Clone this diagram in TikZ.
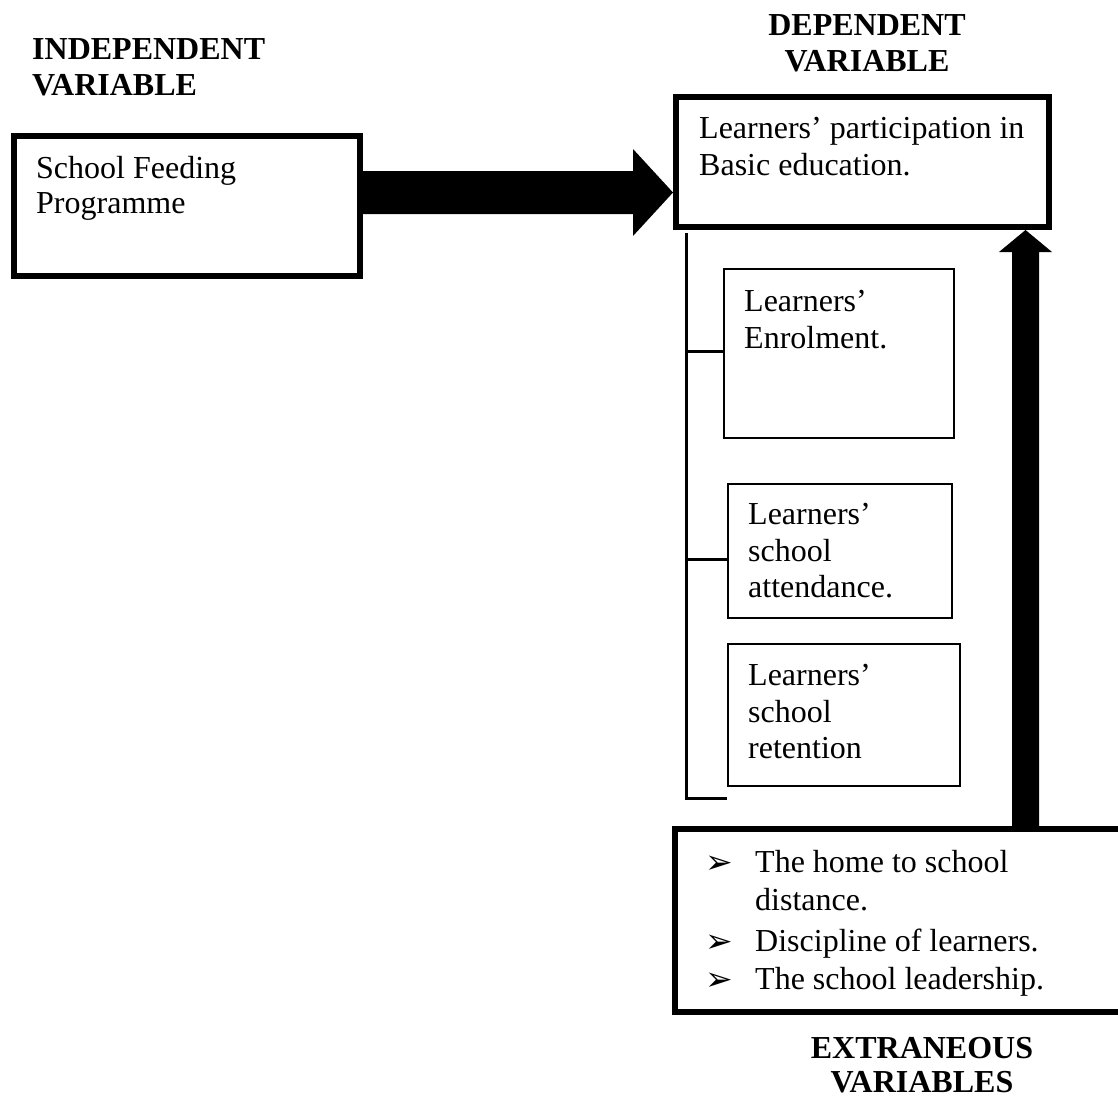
\documentclass[tikz,border=0pt]{standalone}
\usepackage{fontspec}
\setmainfont{Liberation Serif}
\newfontfamily\djv{DejaVu Sans}
\begin{document}
\begin{tikzpicture}[x=1pt,y=-1pt,
  txt/.style={inner sep=0pt,anchor=base west,font=\fontsize{32}{37}\selectfont},
  head/.style={inner sep=0pt,anchor=base,font=\fontsize{32}{37}\selectfont\bfseries},
  headl/.style={inner sep=0pt,anchor=base west,font=\fontsize{32}{37}\selectfont\bfseries},
  bul/.style={inner sep=0pt,anchor=base west,font=\fontsize{33}{38}\djv},
  thickbox/.style={draw,line width=6pt,rectangle,inner sep=0pt},
  thinbox/.style={draw,line width=1.5pt,rectangle,inner sep=0pt},
  bracket/.style={line width=3pt}]
\useasboundingbox (0,0) rectangle (1118,1098);
\clip (0,0) rectangle (1118,1098);

% boxes
\node[thickbox,minimum width=346pt,minimum height=140pt] (sfp) at (187,206) {};
\node[thickbox,minimum width=373pt,minimum height=130pt] (dep) at (862.5,162) {};
\node[thinbox,minimum width=230pt,minimum height=169pt] (enr) at (839,353.5) {};
\node[thinbox,minimum width=224pt,minimum height=134pt] (att) at (840,551) {};
\node[thinbox,minimum width=232pt,minimum height=142pt] (ret) at (844,715) {};
\node[thickbox,minimum width=450pt,minimum height=183pt] (ext) at (900,920.5) {};

% headings
\node[headl] (hind1) at (32,59) {INDEPENDENT};
\node[headl] (hind2) at (32,95) {VARIABLE};
\node[head] (hdep1) at (867,35) {DEPENDENT};
\node[head] (hdep2) at (867,71) {VARIABLE};
\node[head] (hext1) at (922,1058) {EXTRANEOUS};
\node[head] (hext2) at (922,1092) {VARIABLES};

% box texts
\node[txt] (t1) at (36,178) {School Feeding};
\node[txt] (t2) at (36,213) {Programme};
\node[txt] (t3) at (699,138) {Learners’ participation in};
\node[txt] (t4) at (699,175) {Basic education.};
\node[txt] (t5) at (744,311) {Learners’};
\node[txt] (t6) at (744,348) {Enrolment.};
\node[txt] (t7) at (748,524) {Learners’};
\node[txt] (t8) at (748,561) {school};
\node[txt] (t9) at (748,597) {attendance.};
\node[txt] (t10) at (748,685) {Learners’};
\node[txt] (t11) at (748,722) {school};
\node[txt] (t12) at (748,758) {retention};
\node[bul] (b1) at (705,873) {➢};
\node[bul] (b2) at (705,952) {➢};
\node[bul] (b3) at (705,990) {➢};
\node[txt] (e1) at (755,872) {The home to school};
\node[txt] (e2) at (755,910) {distance.};
\node[txt] (e3) at (755,951) {Discipline of learners.};
\node[txt] (e4) at (755,989) {The school leadership.};

% big right arrow
\coordinate (yT) at (0,171);
\coordinate (yB) at (0,214);
\coordinate (hT) at (0,149);
\coordinate (hB) at (0,236);
\coordinate (yM) at (0,192.5);
\coordinate (hx) at (633,0);
\fill (sfp.east|-yT) -- (hx|-yT) -- (hx|-hT) -- (dep.west|-yM) -- (hx|-hB) -- (hx|-yB) -- (sfp.east|-yB) -- cycle;

% big up arrow
\coordinate (sL) at (1012,0);
\coordinate (sR) at (1039,0);
\coordinate (aL) at (999,0);
\coordinate (aR) at (1052,0);
\coordinate (aC) at (1025.5,0);
\coordinate (aY) at (0,252);
\fill (sL|-ext.north) -- (sL|-aY) -- (aL|-aY) -- (aC|-dep.south) -- (aR|-aY) -- (sR|-aY) -- (sR|-ext.north) -- cycle;

% bracket
\coordinate (bTop) at (686,233);
\coordinate (bBot) at (686,798);
\coordinate (k1) at (686,351);
\coordinate (k2) at (686,559);
\draw[bracket] (bTop) -- (bBot) -- (ret.west|-bBot);
\draw[bracket] (k1) -- (enr.west|-k1);
\draw[bracket] (k2) -- (att.west|-k2);
\end{tikzpicture}
\end{document}
